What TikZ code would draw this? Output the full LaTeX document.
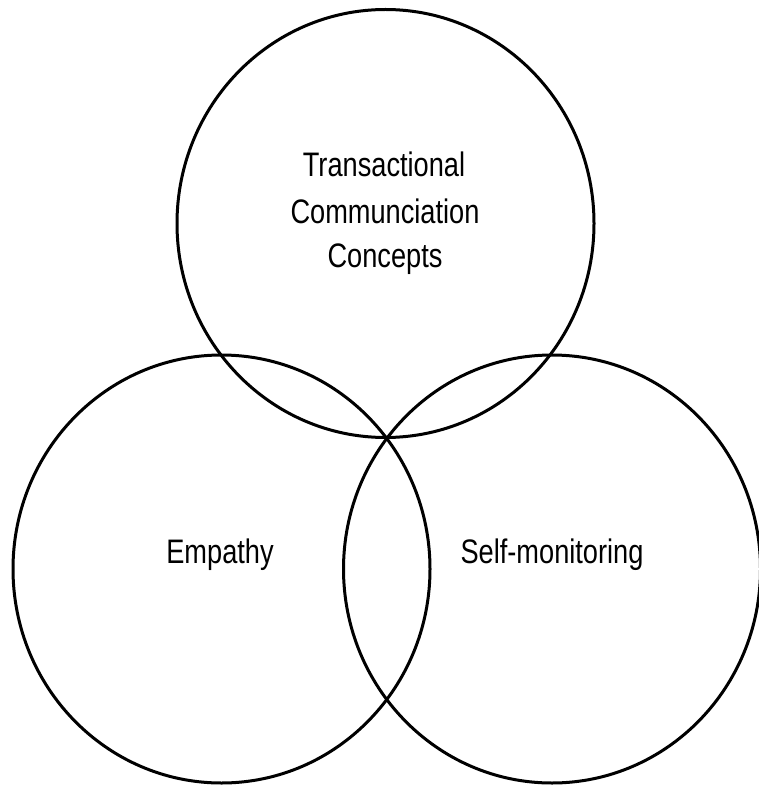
\documentclass[tikz,border=0pt]{standalone}
\usepackage{fontspec}
\newfontfamily\labfont[FakeStretch=0.8]{Liberation Sans}
\usetikzlibrary{shapes.geometric}
\begin{document}
\begin{tikzpicture}[x=1pt,y=-1pt,
  ring/.style={draw=black, line width=3pt, ellipse, minimum width=417pt, minimum height=428pt, inner sep=0pt},
  lab/.style={font=\labfont\fontsize{34}{45}\selectfont, anchor=base, inner sep=0pt}]
\useasboundingbox (0,0) rectangle (758,786);
\node[ring] (top) at (385.5,223.5) {};
\node[ring] (left) at (221.5,569) {};
\node[ring] (right) at (552,569) {};
\node[lab] (t1) at (384,177) {Transactional};
\node[lab] (t2) at (385,223) {Communciation};
\node[lab] (t3) at (385,267) {Concepts};
\node[lab] (emp) at (220,563) {Empathy};
\node[lab] (self) at (552,563) {Self-monitoring};
\end{tikzpicture}
\end{document}
